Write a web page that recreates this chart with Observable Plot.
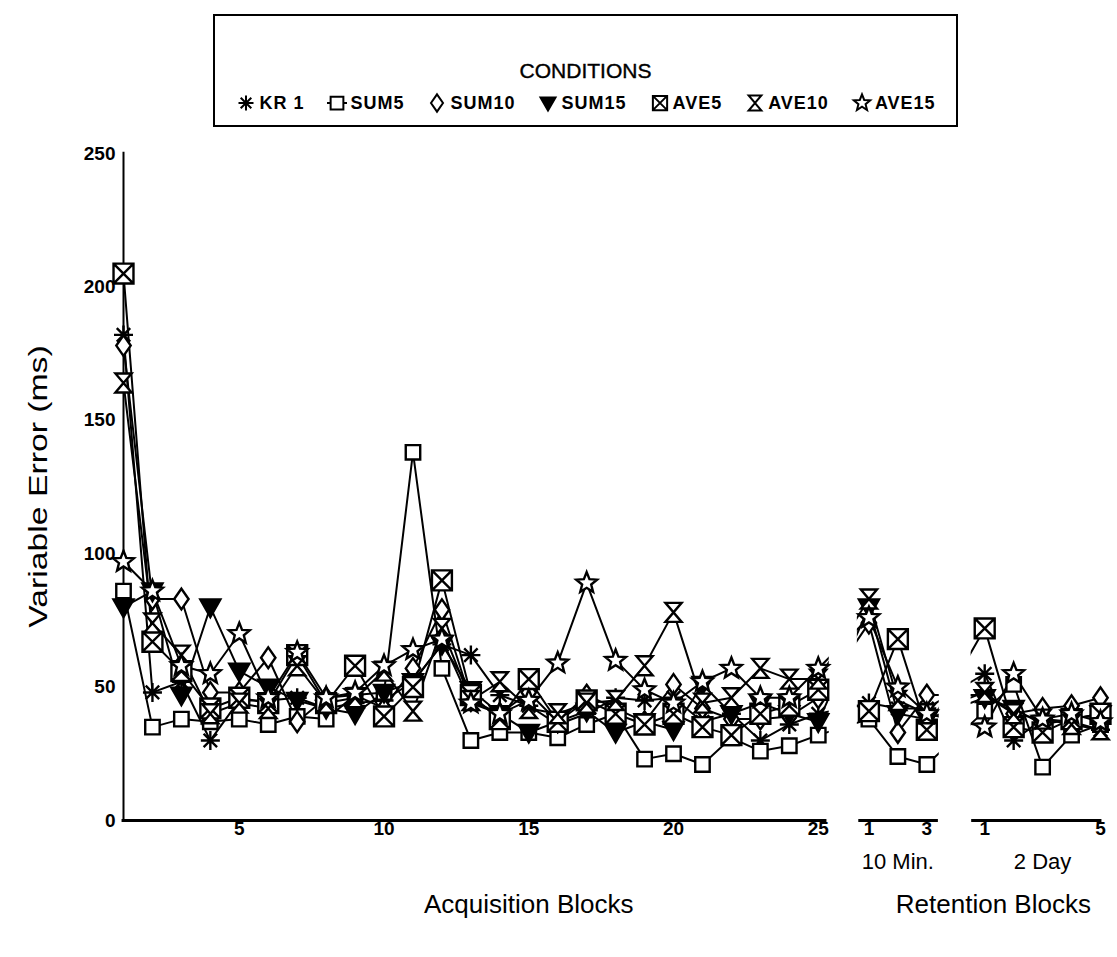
<!DOCTYPE html>
<html><head><meta charset="utf-8">
<script src="https://cdn.jsdelivr.net/npm/d3@7"></script>
<script src="https://cdn.jsdelivr.net/npm/@observablehq/plot@0.6"></script>
<style>
body{margin:0;background:#fff;font-family:"Liberation Sans",Arial,sans-serif;}
#legend{position:absolute;left:213px;top:14px;width:745px;height:113px;border:2px solid #000;box-sizing:border-box;}
#legend .title{position:absolute;left:0;right:0;top:43px;text-align:center;font-size:21px;line-height:24px;-webkit-text-stroke:0.4px #000;}
#legend .row{position:absolute;left:0;right:0;top:76px;display:flex;justify-content:center;align-items:center;gap:22px;font-size:18px;font-weight:bold;letter-spacing:1px;}
.item{display:flex;align-items:center;gap:2px;}
#chart{position:absolute;left:0;top:135px;}
</style></head><body>
<div id="legend"><div class="title">CONDITIONS</div><div class="row" id="row"></div></div>
<div id="chart"></div>
<script>
// ---- data ----
const seriesNames = ["KR 1", "SUM5", "SUM10", "SUM15", "AVE5", "AVE10", "AVE15"];
const acqBlocks = [1,2,3,4,5,6,7,8,9,10,11,12,13,14,15,16,17,18,19,20,21,22,23,24,25];
const min10Blocks = [1,2,3];
const day2Blocks = [1,2,3,4,5];
// values: 25 acquisition blocks | 3 ten-minute retention | 5 two-day retention
const KR1   = [182,48,52,30,45,45,46,42,44,45,52,66,62,47,43,36,40,46,45,46,37,40,30,36,40, 44,42,42, 55,30,38,37,34];
const SUM5  = [86,35,38,37,38,36,39,38,47,48,138,57,30,33,33,31,36,40,23,25,21,31,26,28,32, 38,24,21, 41,51,20,32,36];
const SUM10 = [178,83,83,48,48,61,37,46,47,42,57,79,45,40,48,37,47,42,37,51,42,38,38,39,46, 74,33,47, 47,40,42,43,46];
const SUM15 = [80,86,47,80,56,50,45,42,40,48,52,66,49,40,33,37,41,33,37,34,51,40,44,40,37, 80,40,38, 46,42,36,38,40];
const AVE5  = [205,67,56,42,46,44,62,44,58,39,50,90,47,38,53,37,45,40,36,40,35,32,40,43,49, 41,68,34, 72,35,33,38,40];
const AVE10 = [164,74,62,40,44,42,58,44,46,56,41,72,45,52,42,40,44,45,58,78,44,46,57,53,53, 83,45,40, 48,40,38,36,34];
const AVE15 = [97,86,58,55,70,46,63,46,48,58,64,68,44,40,45,59,89,60,49,44,52,57,46,46,57, 76,50,40, 35,55,38,40,37];
const yTicks = [0, 50, 100, 150, 200, 250];
const acqTicks = [5, 10, 15, 20, 25];
const min10Ticks = [1, 3];
const day2Ticks = [1, 5];
const phaseNames = ["10 Min.", "2 Day"];
const axisTitles = ["Acquisition Blocks", "Retention Blocks"];
const yTitle = "Variable Error (ms)";

// ---- layout helpers ----
const offsets = {acq: 0, min10: 25.75, day2: 29.75};
const phases = [{key: "acq", blocks: acqBlocks}, {key: "min10", blocks: min10Blocks}, {key: "day2", blocks: day2Blocks}];
const seriesValues = [KR1, SUM5, SUM10, SUM15, AVE5, AVE10, AVE15];

const points = [];
seriesNames.forEach((name, si) => {
  let k = 0;
  phases.forEach(ph => ph.blocks.forEach(b => {
    points.push({series: name, pos: b + offsets[ph.key], value: seriesValues[si][k++]});
  }));
});

// ---- custom symbols ----
const star5 = (c, r) => {
  for (let k = 0; k < 10; k++) {
    const rr = k % 2 === 0 ? r * 1.15 : r * 0.5;
    const a = -Math.PI / 2 + k * Math.PI / 5;
    const x = rr * Math.cos(a), y = rr * Math.sin(a);
    if (k === 0) c.moveTo(x, y); else c.lineTo(x, y);
  }
  c.closePath();
};
const R = s => Math.sqrt(s / Math.PI);
const symAsterisk = {draw(c, s) { const r = R(s); for (let k = 0; k < 4; k++) { const a = k * Math.PI / 4; c.moveTo(-r * Math.cos(a), -r * Math.sin(a)); c.lineTo(r * Math.cos(a), r * Math.sin(a)); } }};
const symSquare = {draw(c, s) { const r = R(s) * 0.85; c.moveTo(-r, -r); c.lineTo(r, -r); c.lineTo(r, r); c.lineTo(-r, r); c.closePath(); }};
const symDiamond = {draw(c, s) { const r = R(s); c.moveTo(0, -r * 1.15); c.lineTo(r * 0.8, 0); c.lineTo(0, r * 1.15); c.lineTo(-r * 0.8, 0); c.closePath(); }};
const symTriDown = {draw(c, s) { const r = R(s); c.moveTo(-r, -r * 0.75); c.lineTo(r, -r * 0.75); c.lineTo(0, r); c.closePath(); }};
const symSquareX = {draw(c, s) { const r = R(s) * 0.95; c.moveTo(-r, -r); c.lineTo(r, -r); c.lineTo(r, r); c.lineTo(-r, r); c.closePath(); c.moveTo(-r, -r); c.lineTo(r, r); c.moveTo(r, -r); c.lineTo(-r, r); }};
const symHourglass = {draw(c, s) { const r = R(s); const w = r * 0.85; c.moveTo(-w, -r); c.lineTo(w, -r); c.lineTo(0, 0); c.closePath(); c.moveTo(-w, r); c.lineTo(w, r); c.lineTo(0, 0); c.closePath(); }};
const symStar = {draw(c, s) { star5(c, R(s)); }};

const styles = [
  {sym: symAsterisk, r: 9.5, fill: "none"},
  {sym: symSquare, r: 8.5, fill: "white"},
  {sym: symDiamond, r: 9, fill: "white"},
  {sym: symTriDown, r: 10, fill: "black"},
  {sym: symSquareX, r: 10.5, fill: "white"},
  {sym: symHourglass, r: 9.5, fill: "white"},
  {sym: symStar, r: 9.5, fill: "white"}
];

// axis segments & gaps (in block units)
const segs = [
  {x1: 0.95, x2: 25.3},
  {x1: offsets.min10 + 0.65, x2: offsets.min10 + 3.4},
  {x1: offsets.day2 + 0.55, x2: offsets.day2 + 5.05}
];
const gaps = [
  {x1: 25.38, x2: segs[1].x1 - 0.05},
  {x1: segs[1].x2 + 0.03, x2: segs[2].x1 - 0.02}
];

const tickData = [
  ...acqTicks.map(b => ({pos: b + offsets.acq, label: String(b)})),
  ...min10Ticks.map(b => ({pos: b + offsets.min10, label: String(b)})),
  ...day2Ticks.map(b => ({pos: b + offsets.day2, label: String(b)}))
];
const phaseLabelData = [
  {pos: offsets.min10 + 2, label: phaseNames[0]},
  {pos: offsets.day2 + 3, label: phaseNames[1]}
];
const titleData = [
  {pos: 15, label: axisTitles[0]},
  {pos: offsets.min10 + 5.3, label: axisTitles[1]}
];

const marks = [
  Plot.line(points, {x: "pos", y: "value", z: "series", stroke: "black", strokeWidth: 2}),
  Plot.rect(gaps, {x1: "x1", x2: "x2", y1: 0, y2: 250, fill: "white"}),
  Plot.ruleX([1], {y1: 0, y2: 250.5, stroke: "black", strokeWidth: 2}),
  Plot.ruleY(segs, {y: 0, x1: "x1", x2: "x2", stroke: "black", strokeWidth: 3}),
  ...seriesNames.map((name, i) => Plot.dot(points.filter(p => p.series === name), {
    x: "pos", y: "value", symbol: styles[i].sym, r: styles[i].r,
    fill: styles[i].fill, stroke: "black", strokeWidth: 2.4
  })),
  Plot.text(yTicks, {y: d => d, text: d => String(d), frameAnchor: "left", textAnchor: "end", dx: -8, fontSize: 19, fontWeight: "bold"}),
  Plot.text(tickData, {x: "pos", text: "label", frameAnchor: "bottom", dy: 14, fontSize: 19, fontWeight: "bold"}),
  Plot.text(phaseLabelData, {x: "pos", text: "label", frameAnchor: "bottom", dy: 48, fontSize: 22}),
  Plot.text(titleData, {x: "pos", text: "label", frameAnchor: "bottom", dy: 92, fontSize: 26})
];

const chart = Plot.plot({
  width: 1117, height: 822,
  marginTop: 18, marginBottom: 137, marginLeft: 123, marginRight: 17,
  x: {domain: [1, 34.75], axis: null},
  y: {domain: [0, 250], axis: null},
  style: {fontFamily: "'Liberation Sans', Arial, sans-serif", background: "white", color: "black", overflow: "visible"},
  marks
});
document.getElementById("chart").append(chart);

// y-axis title (rotated, slightly stretched like the scanned original)
const yMid = chart.scale("y").apply(125);
d3.select(chart).append("text")
  .attr("transform", `translate(38,${yMid}) rotate(-90) scale(1.35,1)`)
  .attr("text-anchor", "middle")
  .attr("dominant-baseline", "central")
  .attr("font-size", 25)
  .attr("font-family", "'Liberation Sans', Arial, sans-serif")
  .attr("fill", "black")
  .text(yTitle);

// ---- legend ----
const row = document.getElementById("row");
const svgNS = "http://www.w3.org/2000/svg";
seriesNames.forEach((name, i) => {
  const st = styles[i];
  const item = document.createElement("span");
  item.className = "item";
  const s = document.createElementNS(svgNS, "svg");
  s.setAttribute("width", 22); s.setAttribute("height", 22);
  if (name === "SUM5") {
    const l = document.createElementNS(svgNS, "line");
    l.setAttribute("x1", 1); l.setAttribute("x2", 21); l.setAttribute("y1", 11); l.setAttribute("y2", 11);
    l.setAttribute("stroke", "black"); l.setAttribute("stroke-width", 2);
    s.append(l);
  }
  const p = d3.path();
  st.sym.draw(p, 7.5 * 7.5 * Math.PI);
  const path = document.createElementNS(svgNS, "path");
  path.setAttribute("d", p.toString());
  path.setAttribute("transform", "translate(11,11)");
  path.setAttribute("fill", st.fill);
  path.setAttribute("stroke", "black");
  path.setAttribute("stroke-width", 2);
  s.append(path);
  const t = document.createElement("span");
  t.textContent = name;
  item.append(s, t);
  row.append(item);
});
</script></body></html>
